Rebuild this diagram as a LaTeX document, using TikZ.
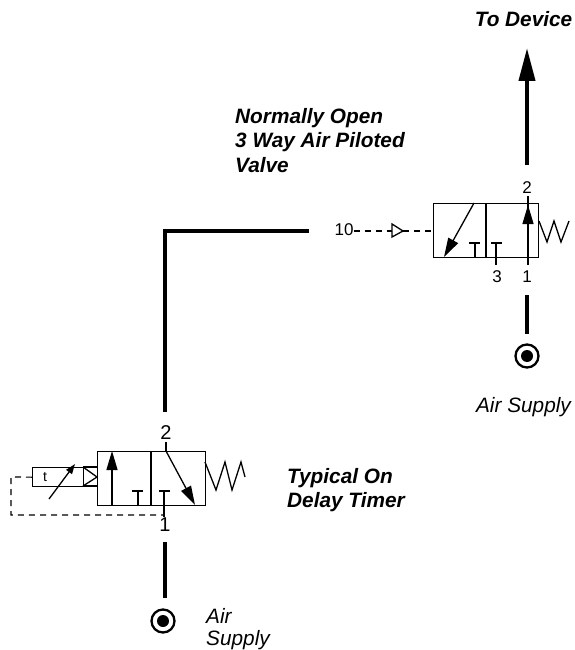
\documentclass[tikz,border=0pt]{standalone}
\usepackage{fontspec}
\setmainfont{Liberation Sans}
\usetikzlibrary{arrows.meta}
\tikzset{
  thin line/.style={line width=1.3pt,line join=miter},
  pipe/.style={line width=4pt},
  pilot/.style={line width=1.2pt,dash pattern=on 6pt off 5pt},
  flow/.style={line width=1.3pt,-{Triangle[length=19pt,width=11pt]}},
  portlabel/.style={font=\fontsize{17}{18}\selectfont,inner sep=0pt},
  bigport/.style={font=\fontsize{20}{22}\selectfont,inner sep=0pt},
  title/.style={font=\fontsize{20.8}{24.5}\selectfont\bfseries\itshape,inner sep=0pt,align=left},
  note/.style={font=\fontsize{20.8}{22.5}\selectfont\itshape,inner sep=0pt,align=left},
  supply/.style={circle,draw,line width=2.3pt,minimum size=23pt,inner sep=0pt},
  supplydot/.style={circle,fill,minimum size=12pt,inner sep=0pt},
}
\begin{document}
\begin{tikzpicture}[x=1pt,y=-1pt]
\useasboundingbox (0,0) rectangle (575,650);
\fill[white] (0,0) rectangle (575,650);
% --- right valve
\node[draw,thin line,minimum width=105pt,minimum height=54pt,inner sep=0pt,anchor=north west] (rv) at (433,203) {};
\coordinate (rdivT) at (486,203); \coordinate (rdivB) at (486,257);
\draw[thin line] (rdivT) -- (rdivB);
\draw[flow] (474,203) -- (444,257);
\draw[thin line] (475,257) -- (475,243) (469,243) -- (480,243);
\draw[thin line] (496,265) -- (496,243) (491,243) -- (502,243);
\draw[thin line] (528,265) -- (528,196);
\draw[flow] (528,240) -- (528,205);
\draw[thin line] (539,221) -- (547,242) -- (554,221) -- (561,242) -- (569,221);
\node[portlabel] (r2) at (527,188) {2};
\node[portlabel] (r3) at (497,277) {3};
\node[portlabel] (r1) at (527,277) {1};
\node[portlabel] (r10) at (344,230) {10};
\coordinate (rtriL) at (392,231);
\coordinate (rtriR) at (403,231);
\draw[pilot] (r10.east |- rtriL) -- (rtriL);
\draw[thin line] (392,224) -- (403,231) -- (392,237) -- cycle;
\draw[pilot] (rtriR) -- (rv.west |- rtriR);
% --- output and right supply
\coordinate (devA) at (527,165);
\coordinate (devB) at (527,48);
\draw[pipe,-{Triangle[length=33pt,width=16pt]}] (devA) -- (devB);
\node[title,anchor=base east] (todev) at (572.5,27) {To Device};
\node[title,anchor=north west] (novalve) at (235,108) {Normally Open\\3 Way Air Piloted\\Valve};
\node[supply] (rs) at (527,356) {};
\node[supplydot] (rsd) at (527,356) {};
\coordinate (rsA) at (527,295);
\coordinate (rsB) at (527,334);
\draw[pipe] (rsA) -- (rsB);
\node[note,anchor=base] (rair) at (523.5,412) {Air Supply};
% --- connecting line
\coordinate (lA) at (309,231);
\coordinate (lB) at (165,231);
\coordinate (lC) at (165,412);
\draw[pipe,line join=miter] (lA) -- (lB) -- (lC);
% --- left valve
\node[draw,thin line,minimum width=108pt,minimum height=54pt,inner sep=0pt,anchor=north west] (lv) at (97,451) {};
\coordinate (ldivT) at (151,451); \coordinate (ldivB) at (151,505);
\draw[thin line] (ldivT) -- (ldivB);
\draw[thin line] (112,505) -- (112,460);
\draw[flow] (112,490) -- (112,451);
\draw[thin line] (138,505) -- (138,491) (132,491) -- (143,491);
\draw[thin line] (164,517) -- (164,491) (159,491) -- (170,491);
\draw[thin line] (166,442) -- (166,451);
\draw[flow] (166,451) -- (195,505);
\draw[thin line] (205,462) -- (216,490) -- (225,462) -- (232,490) -- (241,462) -- (245,477);
\node[bigport] (l2) at (166,433) {2};
\node[bigport] (l1) at (165,525) {1};
% timer
\node[draw,thin line,minimum width=51pt,minimum height=19pt,inner sep=0pt,anchor=north west] (timer) at (32,467) {};
\node[font=\fontsize{14}{16}\selectfont,inner sep=0pt] (tlabel) at (45,477) {t};
\draw[thin line] (83,467) -- (97,467) (83,486) -- (97,486);
\draw[thin line] (83,467) -- (97,477) -- (83,486);
\draw[line width=1.3pt,-{Triangle[length=10pt,width=7pt]}] (49,499) -- (75,464);
\draw[pilot] (timer.west) -- (11,477) -- (11,515) -- (164,515);
\node[title,anchor=north west] (typ) at (287,468) {Typical On\\Delay Timer};
% --- left supply
\coordinate (lsA) at (165,542);
\coordinate (lsB) at (165,598);
\draw[pipe] (lsA) -- (lsB);
\node[supply] (ls) at (163,621) {};
\node[supplydot] (lsd) at (163,621) {};
\node[note,anchor=north west] (lair) at (206,608) {Air\\Supply};
\end{tikzpicture}
\end{document}
